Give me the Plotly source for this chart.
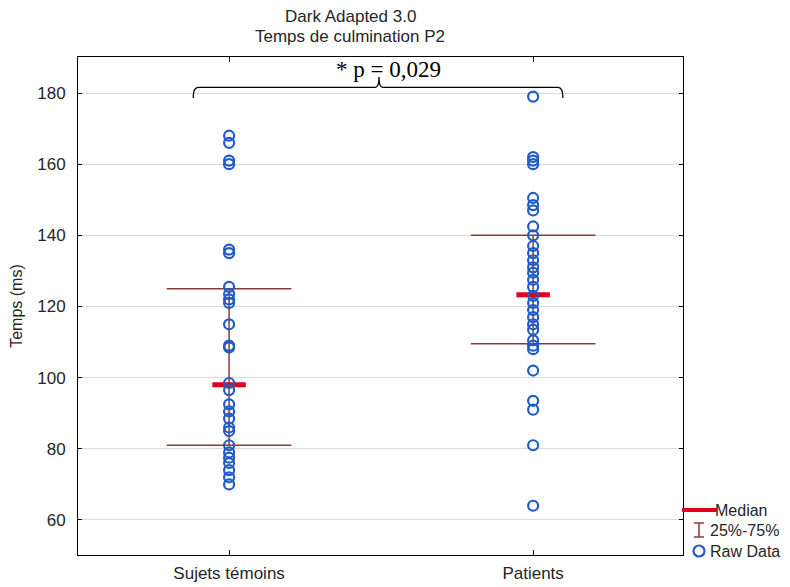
import plotly.graph_objects as go

# ---------------- data ----------------
categories = ["Sujets témoins", "Patients"]
temoins = [70, 72, 74, 76, 77.5, 79, 81, 85, 86, 88.5, 90.5, 92.5, 96.5, 98.5,
           108.5, 109, 115, 121, 122, 123.5, 125.5, 135, 136, 160, 161, 166, 168]
patients = [64, 81, 91, 93.5, 102, 108, 109, 110.5, 113.5, 115, 117, 119, 121,
            123, 125.5, 127.5, 129.5, 131, 133, 135, 137, 140, 142.5, 147,
            148.5, 150.5, 160, 161, 162, 179]
medians = [98, 123.3]
q25 = [81, 109.5]
q75 = [125, 140]
yticks = [60, 80, 100, 120, 140, 160, 180]
p_text = "* p = 0,029"
title_lines = ["Dark Adapted 3.0", "Temps de culmination P2"]
legend_labels = ["Median", "25%-75%", "Raw Data"]

# ---------------- styles ----------------
BLUE = "#1f5cc6"
RED = "#e3001b"
BROWN = "#8b3a3a"
FONT = "Liberation Sans, Arial, sans-serif"
TXT = "#262626"

# the page body adds an 8 px margin, so the figure is drawn 8 px smaller
OFF = 8
W, H = 790 - OFF, 587 - OFF
# plot area in page pixels: x 78..683, y 57..555
ML, MT = 78 - OFF, 57 - OFF
MR, MB = W - (683 - OFF), H - (555 - OFF)
PW, PH = W - ML - MR, H - MT - MB

XR = [-0.497, 1.493]
YR = [50.16, 190.12]

groups = [temoins, patients]
fig = go.Figure()

# whisker (quartile) lines
qx, qy = [], []
half_q = 0.205
for i in range(len(categories)):
    qx += [i - half_q, i + half_q, None, i - half_q, i + half_q, None, i, i, None]
    qy += [q25[i], q25[i], None, q75[i], q75[i], None, q25[i], q75[i], None]
fig.add_trace(go.Scatter(x=qx, y=qy, mode="lines",
                         line=dict(color=BROWN, width=1.5),
                         showlegend=False, hoverinfo="skip"))

# medians
mx, my = [], []
half_m = 0.055
for i in range(len(categories)):
    mx += [i - half_m, i + half_m, None]
    my += [medians[i], medians[i], None]
fig.add_trace(go.Scatter(x=mx, y=my, mode="lines",
                         line=dict(color=RED, width=5),
                         showlegend=False, hoverinfo="skip"))

# raw data
for i, g in enumerate(groups):
    fig.add_trace(go.Scatter(x=[i] * len(g), y=g, mode="markers",
                             marker=dict(symbol="circle-open", size=10,
                                         color=BLUE, line=dict(width=2.2, color=BLUE)),
                             showlegend=False))

# ---------------- significance brace ----------------
x0, x1, xm = -0.118, 1.098, 0.493
y_line, y_end, y_tip = 181.6, 178.6, 184.5
re, rt = 0.016, 0.012
brace = (f"M {x0},{y_end} Q {x0},{y_line} {x0+re},{y_line} "
         f"L {xm-rt},{y_line} Q {xm},{y_line} {xm},{y_tip} "
         f"Q {xm},{y_line} {xm+rt},{y_line} "
         f"L {x1-re},{y_line} Q {x1},{y_line} {x1},{y_end}")
shapes = [dict(type="path", xref="x", yref="y", path=brace,
               line=dict(color="black", width=1.3))]
annotations = [dict(x=0.525, y=186.6, xref="x", yref="y", text=p_text,
                    showarrow=False, xanchor="center", yanchor="middle",
                    font=dict(family="Liberation Serif, Times New Roman, serif",
                              size=23, color="black"))]


def px_x(p):
    """page x pixel -> paper fraction"""
    return (p - OFF - ML) / PW


def px_y(p):
    """page y pixel -> paper fraction"""
    return (MT + PH - (p - OFF)) / PH


# ---------------- title (two centred lines) ----------------
for line, yp in zip(title_lines, [16, 37]):
    annotations.append(dict(x=px_x(350), y=px_y(yp), xref="paper", yref="paper",
                            text=line, showarrow=False, xanchor="center",
                            yanchor="middle", font=dict(family=FONT, size=17, color=TXT)))

# ---------------- manual legend (outside, bottom right) ----------------
shapes.append(dict(type="line", xref="paper", yref="paper",
                   x0=px_x(682), x1=px_x(717), y0=px_y(510), y1=px_y(510),
                   line=dict(color=RED, width=4)))
shapes.append(dict(type="line", xref="paper", yref="paper",
                   x0=px_x(699), x1=px_x(699), y0=px_y(523), y1=px_y(537),
                   line=dict(color=BROWN, width=1.5)))
for yy in (523, 537):
    shapes.append(dict(type="line", xref="paper", yref="paper",
                       x0=px_x(694), x1=px_x(704), y0=px_y(yy), y1=px_y(yy),
                       line=dict(color=BROWN, width=1.5)))
shapes.append(dict(type="circle", xref="paper", yref="paper",
                   x0=px_x(693.5), x1=px_x(704.5), y0=px_y(545.5), y1=px_y(556.5),
                   line=dict(color=BLUE, width=2.2)))
for lab, xp, yp in zip(legend_labels, [713, 708, 708], [510, 530, 551]):
    annotations.append(dict(x=px_x(xp), y=px_y(yp), xref="paper", yref="paper",
                            text=lab, showarrow=False, xanchor="left",
                            yanchor="middle", font=dict(family=FONT, size=16, color=TXT)))

fig.update_layout(
    width=W, height=H,
    margin=dict(l=ML, r=MR, t=MT, b=MB, autoexpand=False),
    paper_bgcolor="white", plot_bgcolor="white",
    font=dict(family=FONT, size=16, color=TXT),
    showlegend=False,
    shapes=shapes,
    annotations=annotations,
)
fig.update_xaxes(range=XR, tickmode="array", tickvals=[0, 1], ticktext=categories,
                 ticks="inside", ticklen=5, tickcolor="black",
                 showline=True, linecolor="black", linewidth=1, mirror="ticks",
                 showgrid=False, zeroline=False, automargin=False,
                 ticklabelstandoff=3,
                 tickfont=dict(family=FONT, size=17, color=TXT))
fig.update_yaxes(range=YR, tickmode="array", tickvals=yticks,
                 ticks="inside", ticklen=4, tickcolor="black",
                 showline=True, linecolor="black", linewidth=1, mirror="ticks",
                 showgrid=True, gridcolor="#dadada", gridwidth=1, zeroline=False,
                 automargin=False, ticklabelstandoff=8,
                 tickfont=dict(family=FONT, size=17, color=TXT),
                 title=dict(text="Temps (ms)", standoff=12,
                            font=dict(family=FONT, size=16, color=TXT)))

fig.write_html("out.html")
